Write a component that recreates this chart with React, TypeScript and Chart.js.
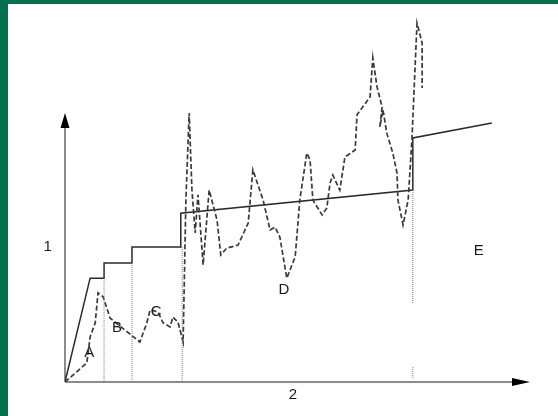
import React, { useEffect, useRef } from "react";
import { Chart, registerables } from "chart.js";

Chart.register(...registerables);

// Solid staircase / trend line
const solidX = [0, 5.4, 8.4, 8.4, 14.4, 14.4, 24.9, 24.9, 74.8, 74.8, 91.8];
const solidY = [0, 28.3, 28.3, 32.4, 32.4, 36.8, 36.8, 46.0, 52.3, 66.5, 70.6];

// Dashed fluctuating curve
const curveX = [
  0, 4.7, 5.4, 6.5, 7.1, 8.2, 9.7, 16.1, 17.6, 18.3, 20.0, 21.1, 22.6, 23.2, 24.3, 25.4,
  26.0, 26.7, 27.3, 28.0, 28.6, 29.7, 31.0, 32.7, 33.5, 34.8, 37.2, 39.4, 40.4, 42.6,
  44.1, 45.2, 46.2, 47.7, 49.5, 50.5, 52.0, 52.7, 53.3, 55.3, 56.3, 57.0, 57.6, 59.1,
  60.2, 62.4, 62.8, 65.6, 66.2, 67.1, 68.2, 67.7, 68.4, 69.2, 70.5, 71.4, 71.6, 72.7,
  73.8, 74.6, 75.7, 76.8, 76.8,
];
const curveY = [
  0, 5.2, 12.3, 16.1, 24.3, 23.2, 17.4, 10.9, 16.1, 19.6, 19.1, 16.1, 15.0, 17.7, 16.3, 10.9,
  49.6, 73.3, 52.3, 40.6, 51.0, 31.9, 52.3, 44.1, 34.6, 36.5, 37.3, 43.3, 57.8, 49.6,
  41.4, 42.2, 39.5, 28.3, 34.1, 49.6, 62.4, 60.5, 49.6, 45.5, 47.4, 54.2, 56.4, 52.3,
  61.3, 63.2, 72.8, 77.7, 88.3, 80.4, 74.9, 69.5, 74.1, 67.8, 62.4, 56.9, 49.6, 42.8,
  49.6, 65.9, 97.8, 92.4, 80.1,
];

// Dotted vertical guide lines: x, top value, bottom value
const guideX = [8.4, 14.4, 25.2, 74.8, 74.8];
const guideTop = [28.3, 32.4, 36.8, 52.3, 4.1];
const guideBottom = [0, 0, 0, 21.5, 1.1];

// Text labels
const labelTexts = ["1", "2", "A", "B", "C", "D", "E"];
const labelX = [-3.7, 49.0, 5.2, 11.2, 19.6, 47.1, 89.0];
const labelY = [36.8, -3.5, 7.9, 14.7, 19.1, 25.1, 35.7];

// Axis extents
const xAxisEnd = 100;
const yAxisEnd = 73.3;

const GREEN = "#04704f";

const zip = (xs: number[], ys: number[]) => xs.map((x, i) => ({ x, y: ys[i] }));

const framePlugin = {
  id: "frame",
  beforeDraw(chart: any) {
    const { ctx, width, height } = chart;
    ctx.save();
    ctx.fillStyle = "#ffffff";
    ctx.fillRect(0, 0, width, height);
    ctx.fillStyle = GREEN;
    ctx.fillRect(0, 0, width, 4);
    ctx.fillRect(0, 0, 8, height);
    ctx.restore();
  },
  beforeDatasetsDraw(chart: any) {
    const { ctx } = chart;
    const xs = chart.scales.x;
    const ys = chart.scales.y;
    const x0 = xs.getPixelForValue(0);
    const y0 = ys.getPixelForValue(0);
    const xe = xs.getPixelForValue(xAxisEnd);
    const ye = ys.getPixelForValue(yAxisEnd);
    ctx.save();
    ctx.strokeStyle = "#8c8c8c";
    ctx.lineWidth = 2;
    ctx.beginPath();
    ctx.moveTo(x0, y0);
    ctx.lineTo(xe - 14, y0);
    ctx.moveTo(x0, y0);
    ctx.lineTo(x0, ye + 12);
    ctx.stroke();
    ctx.fillStyle = "#000000";
    ctx.beginPath();
    ctx.moveTo(xe, y0);
    ctx.lineTo(xe - 18, y0 - 4);
    ctx.lineTo(xe - 18, y0 + 4);
    ctx.closePath();
    ctx.fill();
    ctx.beginPath();
    ctx.moveTo(x0, ye);
    ctx.lineTo(x0 - 4.5, ye + 15);
    ctx.lineTo(x0 + 4.5, ye + 15);
    ctx.closePath();
    ctx.fill();
    ctx.restore();
  },
  afterDatasetsDraw(chart: any) {
    const { ctx } = chart;
    const xs = chart.scales.x;
    const ys = chart.scales.y;
    ctx.save();
    ctx.fillStyle = "#1a1a1a";
    ctx.font = '15px "Liberation Sans", Arial, sans-serif';
    ctx.textAlign = "center";
    ctx.textBaseline = "middle";
    labelTexts.forEach((t, i) => {
      ctx.fillText(t, xs.getPixelForValue(labelX[i]), ys.getPixelForValue(labelY[i]));
    });
    ctx.restore();
  },
};

export default function App() {
  const ref = useRef<HTMLCanvasElement | null>(null);

  useEffect(() => {
    document.body.style.margin = "0";
    if (!ref.current) return;

    const guides = guideX.map((gx, i) => ({
      data: [
        { x: gx, y: guideTop[i] },
        { x: gx, y: guideBottom[i] },
      ],
      showLine: true,
      borderColor: "#7a7a7a",
      borderWidth: 1,
      borderDash: [1, 1],
      pointRadius: 0,
      fill: false,
    }));

    const chart = new Chart(ref.current, {
      type: "scatter",
      data: {
        datasets: [
          ...guides,
          {
            data: zip(curveX, curveY),
            showLine: true,
            borderColor: "#3a3a3a",
            borderWidth: 1.7,
            borderDash: [5, 2.5],
            pointRadius: 0,
            tension: 0,
            fill: false,
          },
          {
            data: zip(solidX, solidY),
            showLine: true,
            borderColor: "#2a2a2a",
            borderWidth: 1.5,
            pointRadius: 0,
            tension: 0,
            fill: false,
          },
        ] as any,
      },
      options: {
        animation: false,
        responsive: false,
        maintainAspectRatio: false,
        layout: { padding: { left: 65, right: 28, top: 15, bottom: 34 } },
        plugins: {
          legend: { display: false },
          tooltip: { enabled: false },
        },
        scales: {
          x: { type: "linear", min: 0, max: 100, display: false },
          y: { type: "linear", min: 0, max: 100, display: false },
        },
      } as any,
      plugins: [framePlugin],
    });

    return () => chart.destroy();
  }, []);

  return (
    <div style={{ width: 558, height: 416 }}>
      <canvas ref={ref} width={558} height={416} style={{ display: "block" }} />
    </div>
  );
}
